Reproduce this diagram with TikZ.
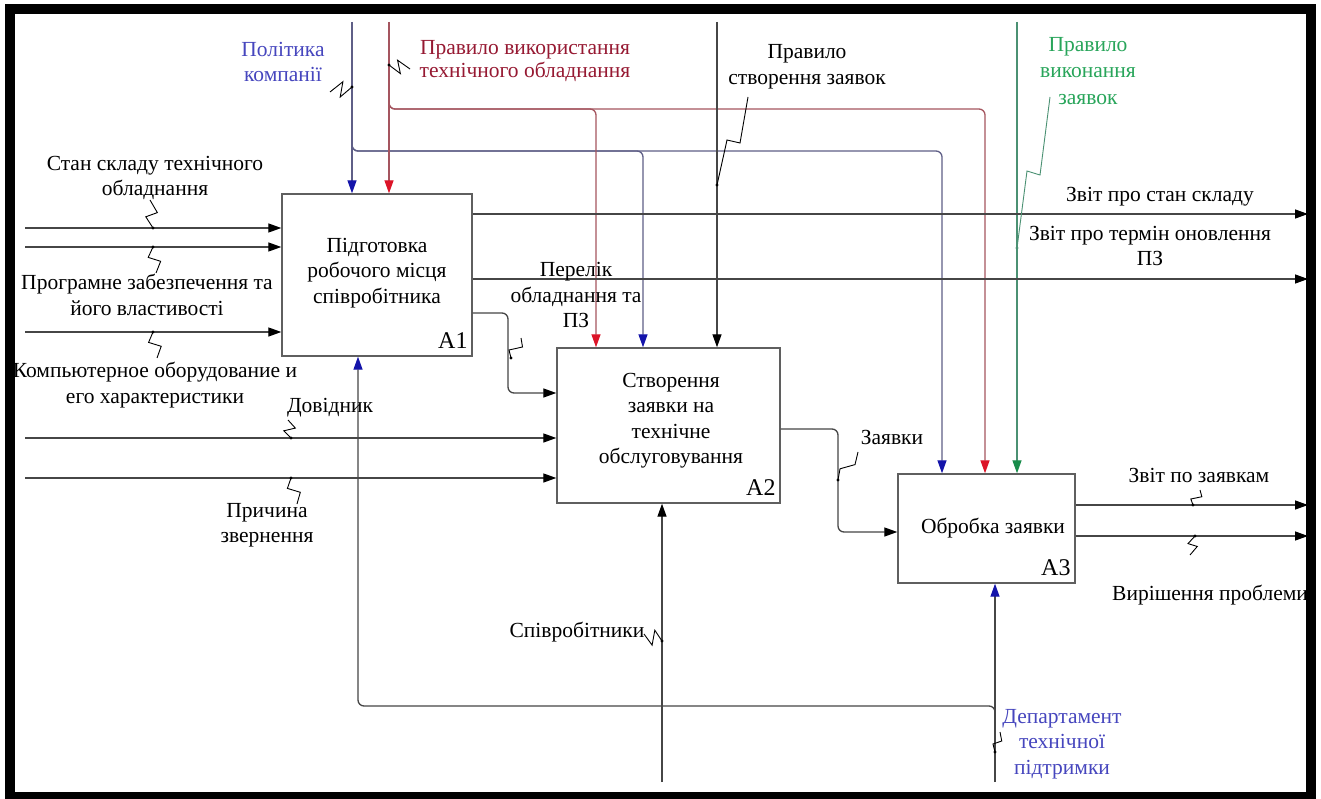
\documentclass[tikz,border=0pt]{standalone}
\usepackage{fontspec}
\setmainfont{Liberation Serif}
\usetikzlibrary{arrows.meta,calc}

\definecolor{wire}{RGB}{70,70,70}
\definecolor{boxc}{RGB}{95,95,95}
\definecolor{redwire}{RGB}{165,85,95}
\definecolor{bluewire}{RGB}{95,95,135}
\definecolor{greenwire}{RGB}{75,145,115}
\definecolor{tipblue}{RGB}{20,20,170}
\definecolor{tipred}{RGB}{220,20,40}
\definecolor{tipgreen}{RGB}{25,140,75}
\definecolor{txtblue}{RGB}{70,70,190}
\definecolor{txtred}{RGB}{150,25,50}
\definecolor{txtgreen}{RGB}{40,165,90}

% zig-zag label pointer: start, dot, sideways offset
\newcommand\zig[4]{%
  \draw[squig] (#1) -- ($(#1)!0.45!(#2)+(#3,#4)$) -- ($(#1)!0.6!(#2)-(#3,#4)$) -- (#2);
  \fill (#2) circle (1.7);}

\begin{document}
\begin{tikzpicture}[x=1pt,y=-1pt,
  lbl/.style={font=\fontsize{21.5}{25.5}\selectfont, align=center, inner sep=0pt},
  box/.style={draw=boxc, line width=1.4pt, inner sep=0pt},
  boxid/.style={font=\fontsize{24}{25}\selectfont, inner sep=0pt, anchor=base east},
  con/.style={draw=wire, line width=1.3pt},
  squig/.style={draw=black, line width=0.9pt},
  tipK/.style={-{Triangle[length=13pt,width=9pt,color=black]}},
  tipB/.style={-{Triangle[length=13pt,width=9pt,color=tipblue]}},
  tipR/.style={-{Triangle[length=13pt,width=9pt,color=tipred]}},
  tipG/.style={-{Triangle[length=13pt,width=9pt,color=tipgreen]}},
  rc/.style={rounded corners=6pt}]
\useasboundingbox (0,0) rectangle (1321,799);
\fill[white] (0,0) rectangle (1321,799);

% activity boxes
\node[box, minimum width=190pt, minimum height=162pt] (A1) at (377,275) {};
\node[box, minimum width=223pt, minimum height=155pt] (A2) at (668.5,425.5) {};
\node[box, minimum width=177pt, minimum height=109pt] (A3) at (986.5,528.5) {};
\node[lbl] (tA1) at (377,273) {Підготовка\\робочого місця\\співробітника};
\node[lbl] (tA2) at (671,420.5) {Створення\\заявки на\\технічне\\обслуговування};
\node[lbl] (tA3) at (993,528) {Обробка заявки};
\node[boxid] (A1id) at ($(A1.south east)+(-5,-8)$) {A1};
\node[boxid] (A2id) at ($(A2.south east)+(-5,-8)$) {A2};
\node[boxid] (A3id) at ($(A3.south east)+(-5,-8)$) {A3};

% controls
\coordinate (pol) at (352,22);
\coordinate (polA2) at (643,151);
\coordinate (polA3) at (942,151);
\draw[con, draw=bluewire, tipB] (pol) -- (pol |- A1.north);
\draw[con, draw=bluewire, rc, tipB] (352,130) -- (352,151) -- (polA2) -- (polA2 |- A2.north);
\draw[con, draw=bluewire, rc, tipB] (352,130) -- (352,151) -- (polA3) -- (polA3 |- A3.north);

\coordinate (use) at (389,22);
\coordinate (useA2) at (596,109);
\coordinate (useA3) at (985,109);
\draw[con, draw=redwire, tipR] (use) -- (use |- A1.north);
\draw[con, draw=redwire, rc, tipR] (389,90) -- (389,109) -- (useA2) -- (useA2 |- A2.north);
\draw[con, draw=redwire, rc, tipR] (389,90) -- (389,109) -- (useA3) -- (useA3 |- A3.north);

\coordinate (mk) at (717,22);
\draw[con, tipK] (mk) -- (mk |- A2.north);

\coordinate (ex) at (1017,22);
\draw[con, draw=greenwire, tipG] (ex) -- (ex |- A3.north);

% inputs
\coordinate (in1) at (25,228);
\coordinate (in2) at (25,247);
\coordinate (in3) at (25,332);
\coordinate (in4) at (25,438);
\coordinate (in5) at (25,478);
\draw[con, tipK] (in1) -- (in1 -| A1.west);
\draw[con, tipK] (in2) -- (in2 -| A1.west);
\draw[con, tipK] (in3) -- (in3 -| A1.west);
\draw[con, tipK] (in4) -- (in4 -| A2.west);
\draw[con, tipK] (in5) -- (in5 -| A2.west);

% outputs
\coordinate (out1) at (1308,214);
\coordinate (out2) at (1308,279);
\coordinate (out3) at (1308,505);
\coordinate (out4) at (1308,536);
\draw[con, tipK] (out1 -| A1.east) -- (out1);
\draw[con, tipK] (out2 -| A1.east) -- (out2);
\draw[con, tipK] (out3 -| A3.east) -- (out3);
\draw[con, tipK] (out4 -| A3.east) -- (out4);

\coordinate (f1) at (508,313);
\coordinate (f2) at (508,393);
\draw[con, rc, tipK] (f1 -| A1.east) -- (f1) -- (f2) -- (f2 -| A2.west);
\coordinate (g1) at (838,429);
\coordinate (g2) at (838,532);
\draw[con, rc, tipK] (g1 -| A2.east) -- (g1) -- (g2) -- (g2 -| A3.west);

% mechanisms
\coordinate (dep) at (995,782);
\coordinate (depA1) at (358,706);
\draw[con, tipB] (dep) -- (dep |- A3.south);
\draw[con, rc, tipB] (995,740) -- (995,706) -- (depA1) -- (depA1 |- A1.south);
\coordinate (emp) at (662,782);
\draw[con, tipK] (emp) -- (emp |- A2.south);

% arrow labels
\node[lbl, text=txtblue] (tPol) at (283,62) {Політика\\компанії};
\node[lbl, text=txtred, font=\fontsize{21.5}{23}\selectfont] (tUse) at (525,61) {Правило використання\\технічного обладнання};
\node[lbl] (tMk) at (807,67) {Правило\\створення заявок};
\node[lbl, text=txtgreen, font=\fontsize{21.5}{26.5}\selectfont] (tEx) at (1088,71) {Правило\\виконання\\заявок};
\node[lbl] (tIn1) at (155,178) {Стан складу технічного\\обладнання};
\node[lbl] (tIn2) at (147,295) {Програмне забезпечення та\\його властивості};
\node[lbl] (tIn3) at (155,385) {Компьютерное оборудование и\\его характеристики};
\node[lbl] (tIn4) at (330,408) {Довідник};
\node[lbl] (tIn5) at (267,525) {Причина\\звернення};
\node[lbl] (tF) at (576,295) {Перелік\\обладнання та\\ПЗ};
\node[lbl] (tG) at (892,437) {Заявки};
\node[lbl] (tO1) at (1160,197) {Звіт про стан складу};
\node[lbl] (tO2) at (1150,246) {Звіт про термін оновлення\\ПЗ};
\node[lbl] (tO3) at (1199,475) {Звіт по заявкам};
\node[lbl, anchor=west] (tO4) at (1112,595) {Вирішення проблеми};
\node[lbl] (tEmp) at (577,632) {Співробітники};
\node[lbl, text=txtblue] (tDep) at (1062,744) {Департамент\\технічної\\підтримки};

% label pointers
\zig{330,92}{352,87}{3}{-8}
\zig{410,69}{389,65}{-3}{-7}
\draw[squig] (748,97) -- (740,143) -- (727,140) -- (717,185); \fill (717,185) circle (1.7);
\draw[squig, draw=greenwire] (1050,97) -- (1040,175) -- (1027,171) -- (1017,248); \fill[greenwire] (1017,248) circle (1.7);
\zig{150,200}{153,228}{6}{0}
\zig{156,273}{153,247}{6}{0}
\zig{157,358}{153,332}{6}{0}
\zig{288,420}{291,438}{6}{0}
\zig{297,504}{291,478}{6}{0}
\zig{521,338}{511,358}{6}{0}
\zig{858,452}{838,480}{6}{0}
\zig{644,634}{662,641}{0}{8}
\zig{1200,490}{1193,505}{5}{0}
\zig{1190,555}{1195,536}{5}{0}
\zig{1000,732}{995,752}{4}{0}

% sheet frame
\draw[line width=10pt] (10,9.5) rectangle (1310.5,797);
\end{tikzpicture}
\end{document}
